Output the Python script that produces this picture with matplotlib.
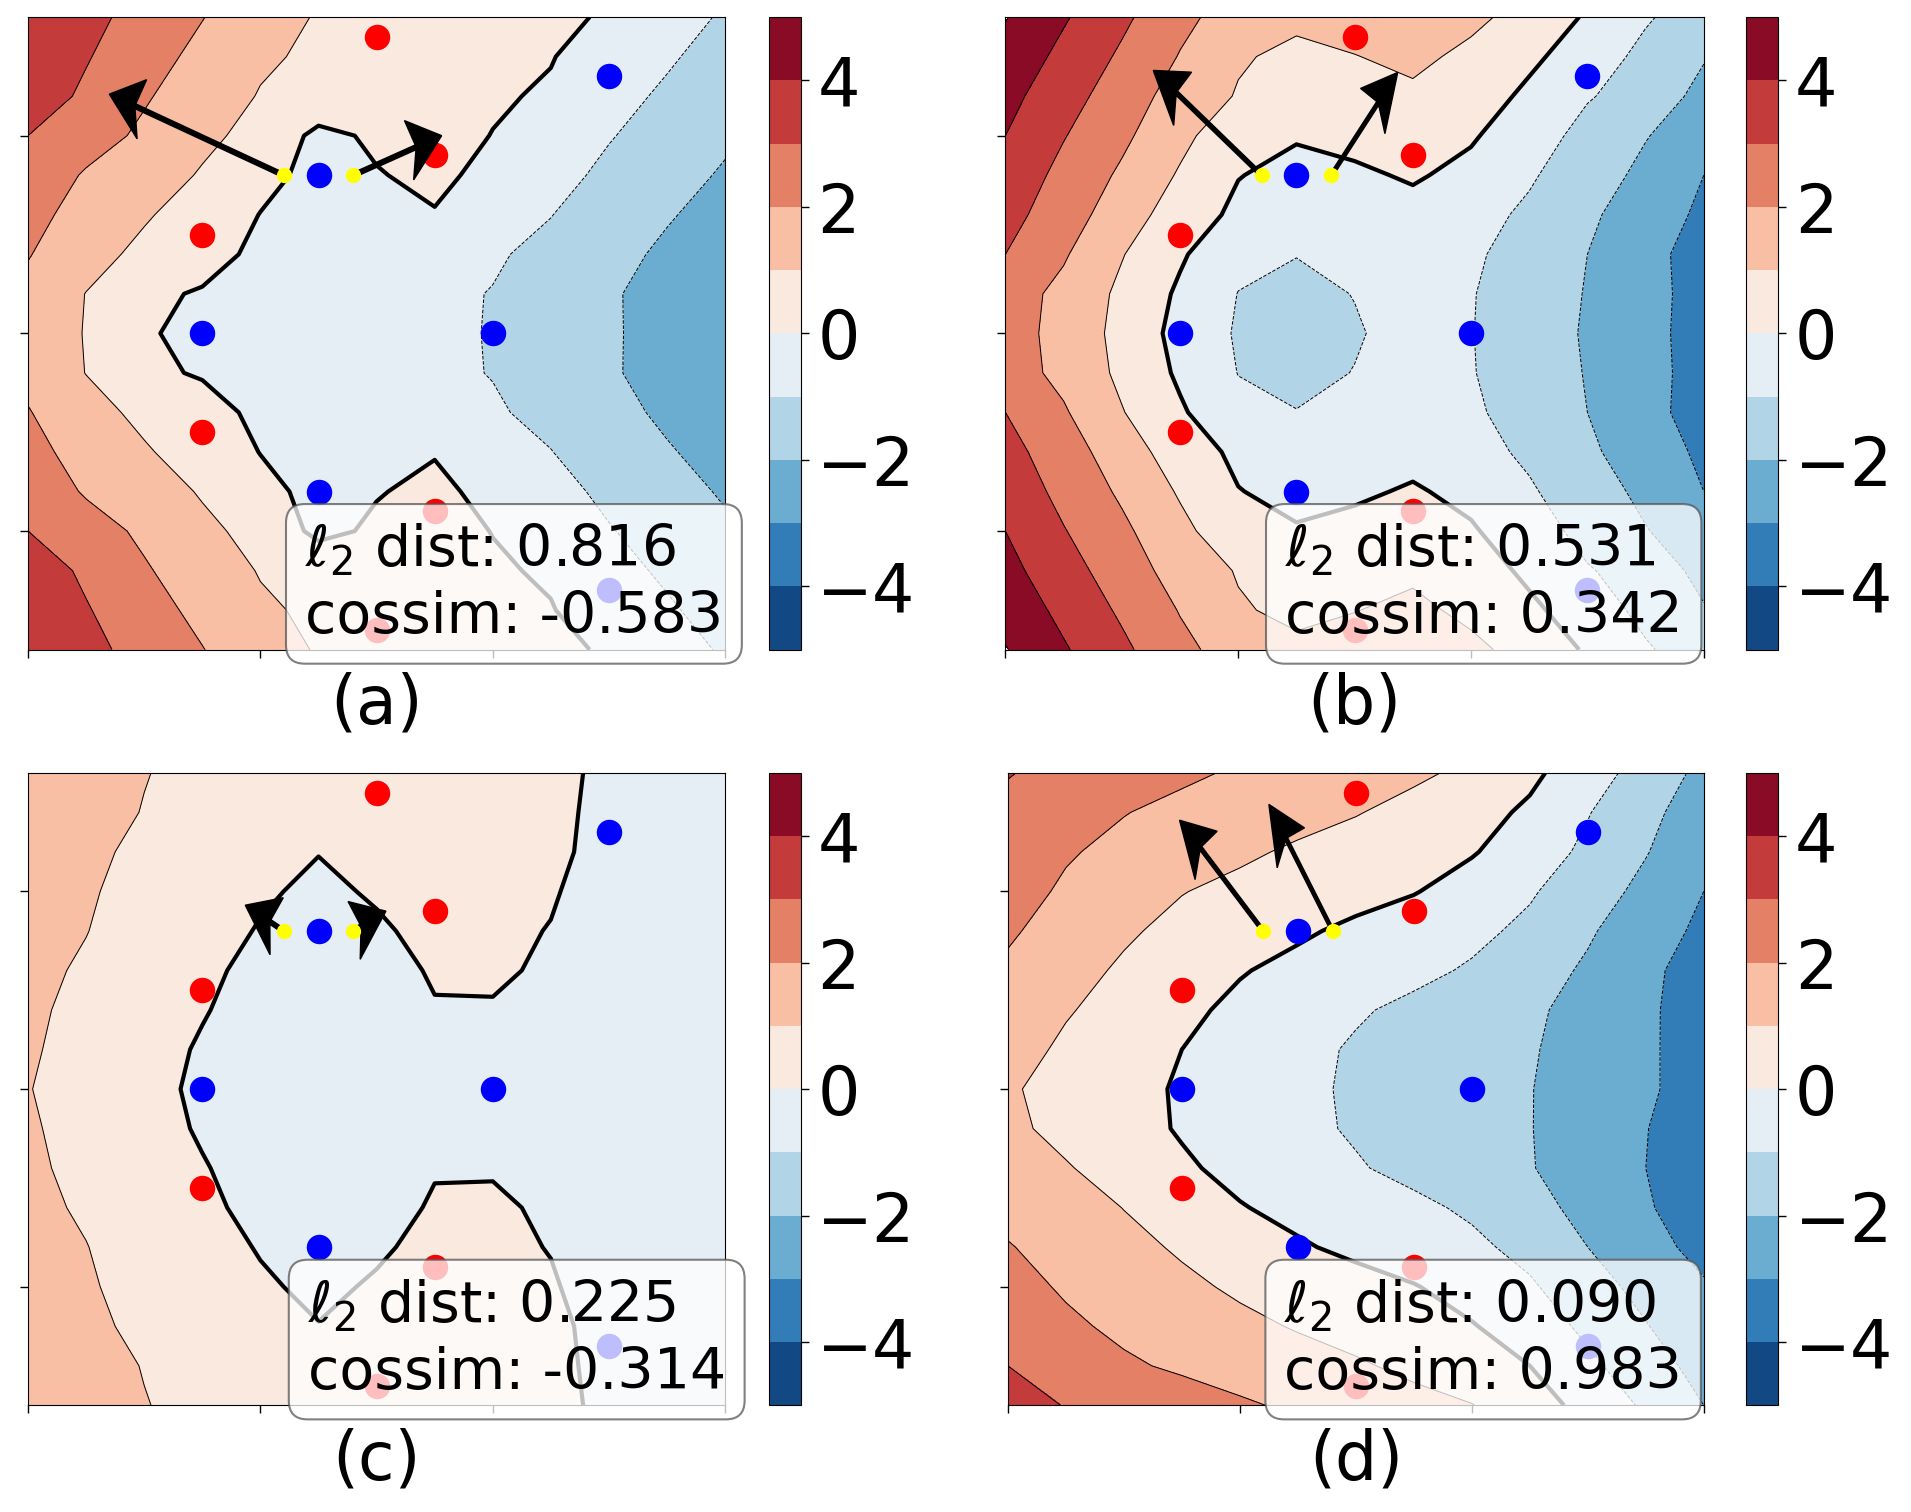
#!/usr/bin/env python3
# -*- coding: utf-8 -*-

"""
Decision surfaces of four models with the input gradients at two points.
Surface values are read off the contours on a coarse grid.
"""

import numpy as np
import matplotlib
matplotlib.use("Agg")
import matplotlib.pyplot as plt

# ==============================
# DATA
# ==============================
grid_x = np.linspace(-3, 3, 13)
grid_y = np.linspace(1.6, -1.6, 17)

# top half of the symmetric surfaces, rows from y=1.6 down to y=0
surface_a_top = [
    [3.90, 3.28, 2.65, 2.03, 1.40, 0.93, 0.73, 0.53, 0.34, 0.14, -0.07, -0.63, -1.10],
    [3.70, 3.07, 2.38, 1.75, 1.13, 0.84, 0.63, 0.43, 0.22, 0.04, -0.43, -0.89, -1.35],
    [3.55, 2.83, 2.10, 1.47, 0.95, 0.74, 0.53, 0.31, 0.10, -0.10, -0.70, -1.14, -1.60],
    [3.00, 2.43, 1.82, 1.18, 0.75, -0.25, 0.15, 0.30, -0.02, -0.50, -0.95, -1.35, -1.85],
    [2.67, 1.90, 1.40, 0.93, 0.25, -0.25, -0.05, 0.20, -0.25, -0.72, -1.18, -1.65, -2.10],
    [2.25, 1.70, 1.10, 0.55, -0.02, -0.20, -0.30, -0.05, -0.50, -0.98, -1.45, -1.92, -2.35],
    [2.05, 1.35, 0.77, 0.27, -0.16, -0.28, -0.50, -0.70, -0.90, -1.23, -1.70, -2.17, -2.60],
    [1.75, 0.98, 0.13, -0.06, -0.25, -0.44, -0.64, -0.83, -1.03, -1.46, -1.90, -2.32, -2.75],
    [1.65, 0.95, 0.05, -0.13, -0.31, -0.48, -0.66, -0.84, -1.04, -1.47, -1.90, -2.30, -2.70],
]
surface_b_top = [
    [5.05, 4.10, 3.20, 2.25, 1.55, 1.20, 1.45, 1.75, 1.25, 0.60, -0.10, -0.90, -1.50],
    [4.65, 3.75, 2.85, 1.95, 1.10, 0.78, 0.97, 1.25, 0.75, 0.20, -0.50, -1.25, -1.93],
    [4.30, 3.40, 2.50, 1.60, 0.93, 0.42, 0.62, 0.80, 0.50, -0.20, -0.93, -1.40, -2.30],
    [4.00, 3.05, 2.20, 1.25, 0.36, 0.07, 0.27, 0.45, 0.10, -0.55, -1.30, -1.95, -2.60],
    [3.67, 2.72, 1.85, 0.90, 0.03, -0.25, -0.15, 0.10, -0.25, -0.90, -1.50, -2.25, -3.00],
    [3.35, 2.45, 1.50, 0.50, -0.20, -0.55, -0.50, -0.30, -0.70, -1.15, -1.85, -2.45, -3.20],
    [3.00, 2.10, 1.05, 0.12, -0.75, -0.97, -0.85, -0.65, -0.85, -1.40, -2.00, -2.70, -3.40],
    [2.45, 1.75, 0.80, -0.15, -1.02, -1.30, -0.97, -0.65, -0.95, -1.50, -2.05, -2.70, -3.35],
    [2.40, 1.70, 0.70, -0.30, -1.10, -1.40, -1.10, -0.60, -0.97, -1.50, -2.10, -2.70, -3.40],
]
surface_c_top = [
    [1.50, 1.25, 1.02, 0.85, 0.70, 0.50, 0.55, 0.75, 0.55, 0.25, -0.20, -0.35, -0.55],
    [1.40, 1.20, 0.98, 0.75, 0.45, 0.30, 0.40, 0.60, 0.40, 0.18, -0.20, -0.35, -0.55],
    [1.35, 1.15, 0.85, 0.50, 0.25, 0.02, 0.20, 0.45, 0.30, 0.10, -0.15, -0.40, -0.60],
    [1.30, 1.08, 0.75, 0.40, 0.10, -0.15, 0.08, 0.35, 0.18, 0.05, -0.25, -0.45, -0.60],
    [1.25, 1.02, 0.62, 0.30, -0.05, -0.35, -0.10, 0.20, 0.12, -0.02, -0.30, -0.50, -0.65],
    [1.20, 0.90, 0.50, 0.15, -0.20, -0.45, -0.30, 0.08, 0.10, -0.10, -0.40, -0.55, -0.70],
    [1.15, 0.78, 0.38, 0.05, -0.30, -0.50, -0.50, -0.05, -0.05, -0.30, -0.50, -0.60, -0.75],
    [1.10, 0.70, 0.30, -0.08, -0.40, -0.58, -0.60, -0.35, -0.25, -0.40, -0.55, -0.65, -0.75],
    [1.03, 0.65, 0.25, -0.15, -0.42, -0.60, -0.65, -0.45, -0.35, -0.45, -0.58, -0.68, -0.78],
]
# panel (d) has no symmetry, all rows from y=1.6 down to y=-1.6
surface_d = [
    [3.05, 2.70, 2.45, 2.15, 1.90, 1.65, 1.42, 1.17, 0.80, 0.20, -0.55, -1.40, -2.25],
    [2.75, 2.35, 2.03, 1.78, 1.53, 1.30, 1.05, 0.70, 0.33, -0.15, -0.95, -1.75, -2.50],
    [2.50, 2.08, 1.78, 1.45, 1.15, 0.87, 0.60, 0.33, 0.07, -0.50, -1.20, -1.95, -2.75],
    [2.34, 1.88, 1.46, 1.03, 0.78, 0.54, 0.30, 0.05, -0.40, -0.90, -1.55, -2.25, -3.00],
    [2.12, 1.62, 1.12, 0.76, 0.44, 0.13, -0.18, -0.50, -0.78, -1.20, -1.89, -2.55, -3.20],
    [1.85, 1.30, 0.88, 0.47, 0.06, -0.24, -0.50, -0.78, -1.10, -1.60, -2.13, -2.80, -3.40],
    [1.60, 1.08, 0.63, 0.20, -0.20, -0.55, -0.90, -1.20, -1.50, -1.85, -2.30, -2.85, -3.45],
    [1.40, 0.83, 0.38, 0.00, -0.38, -0.75, -1.10, -1.37, -1.65, -1.92, -2.38, -2.87, -3.40],
    [1.10, 0.70, 0.30, -0.10, -0.50, -0.80, -1.13, -1.42, -1.70, -1.97, -2.42, -2.87, -3.40],
    [1.20, 0.74, 0.33, -0.08, -0.43, -0.78, -1.10, -1.40, -1.68, -1.97, -2.47, -2.98, -3.40],
    [1.55, 1.07, 0.60, 0.13, -0.25, -0.58, -0.92, -1.25, -1.60, -1.95, -2.45, -3.00, -3.50],
    [1.75, 1.45, 0.98, 0.52, 0.05, -0.25, -0.50, -0.80, -1.15, -1.70, -2.27, -2.90, -3.55],
    [2.05, 1.67, 1.28, 0.88, 0.50, 0.10, -0.20, -0.55, -0.80, -1.28, -2.00, -2.65, -3.30],
    [2.30, 1.90, 1.55, 1.20, 0.85, 0.60, 0.32, 0.05, -0.40, -0.88, -1.60, -2.30, -2.90],
    [2.65, 2.15, 1.83, 1.53, 1.22, 0.93, 0.63, 0.35, 0.06, -0.50, -1.20, -1.95, -2.70],
    [3.00, 2.60, 2.12, 1.87, 1.62, 1.37, 1.12, 0.78, 0.39, 0.00, -0.80, -1.55, -2.35],
    [3.50, 2.95, 2.67, 2.40, 2.12, 1.85, 1.57, 1.30, 1.03, 0.43, -0.30, -1.15, -2.00],
]

blue_x = [-1.5, 1.0, -0.5, -0.5, 2.0, 2.0]
blue_y = [0.0, 0.0, 0.8, -0.8, 1.3, -1.3]
red_x = [-1.5, -1.5, 0.0, 0.0, 0.5, 0.5]
red_y = [0.5, -0.5, 1.5, -1.5, 0.9, -0.9]
yellow_x = [-0.8, -0.2]
yellow_y = [0.8, 0.8]

# arrows start at the yellow points
arrows_dx = {"a": [-1.50, 0.76], "b": [-0.93, 0.57], "c": [-0.33, 0.28], "d": [-0.72, -0.55]}
arrows_dy = {"a": [0.41, 0.20], "b": [0.53, 0.52], "c": [0.13, 0.10], "d": [0.56, 0.64]}

captions = ["(a)", "(b)", "(c)", "(d)"]
l2_dist = ["0.816", "0.531", "0.225", "0.090"]
cossim = ["-0.583", "0.342", "-0.314", "0.983"]

levels = np.arange(-5, 6)
cbar_ticks = [-4, -2, 0, 2, 4]


def mirror(top_rows):
    top_rows = np.array(top_rows)
    return np.vstack([top_rows, top_rows[-2::-1]])


surfaces = [mirror(surface_a_top), mirror(surface_b_top), mirror(surface_c_top), np.array(surface_d)]

# ==============================
# FIGURE
# ==============================
W, H = 1568.0, 1240.5
fig = plt.figure(figsize=(19.11, 15.12), dpi=100)

# left, top, right, bottom of each axes in display pixels
boxes = [(23, 14, 595, 533), (825, 14, 1398, 533), (23, 634, 595, 1153), (827, 634, 1398, 1153)]
cbar_left = [631, 1433, 631, 1433]
text_x = [0.397, 0.400, 0.401, 0.397]


def plot_panel(i, name):
    l, t, r, b = boxes[i]
    ax = fig.add_axes([l / W, 1 - b / H, (r - l) / W, (b - t) / H])
    X, Y = np.meshgrid(grid_x, grid_y)
    Z = surfaces[i]

    cf = ax.contourf(X, Y, Z, levels=levels, cmap="RdBu_r", vmin=-5, vmax=5)
    thin = [lv for lv in levels if lv != 0]
    ax.contour(X, Y, Z, levels=thin, colors="k", linewidths=0.7)
    ax.contour(X, Y, Z, levels=[0], colors="k", linewidths=3)

    ax.scatter(blue_x, blue_y, s=300, c="blue", zorder=3)
    ax.scatter(red_x, red_y, s=300, c="red", zorder=3)

    for x0, y0, dx, dy in zip(yellow_x, yellow_y, arrows_dx[name], arrows_dy[name]):
        ax.arrow(x0, y0, dx, dy, width=0.025, head_width=0.31, head_length=0.29,
                 overhang=0.2, length_includes_head=True, fc="k", ec="k", zorder=4)
    ax.scatter(yellow_x, yellow_y, s=100, c="yellow", zorder=5)

    ax.set_xlim(-3, 3)
    ax.set_ylim(-1.6, 1.6)
    ax.set_xticks([-3, -1, 1, 3])
    ax.set_yticks([-1, 0, 1])
    ax.tick_params(labelbottom=False, labelleft=False, length=6, width=1)
    ax.set_xlabel(captions[i], fontsize=48, labelpad=10)

    ax.text(text_x[i], 0.104, rf"$\ell_2$ dist: {l2_dist[i]}" + "\n" + f"cossim: {cossim[i]}",
            transform=ax.transAxes, fontsize=41, linespacing=1.25, ha="left", va="center",
            zorder=6, clip_on=False,
            bbox=dict(boxstyle="round,pad=0.33", fc="white", ec="#555555", alpha=0.75, lw=1.5))

    cax = fig.add_axes([cbar_left[i] / W, 1 - b / H, 26 / W, (b - t) / H])
    cbar = fig.colorbar(cf, cax=cax, ticks=cbar_ticks)
    cbar.ax.tick_params(labelsize=48, length=6, width=1, pad=6)


for i, name in enumerate(["a", "b", "c", "d"]):
    plot_panel(i, name)

fig.savefig("out.png", dpi=100)
